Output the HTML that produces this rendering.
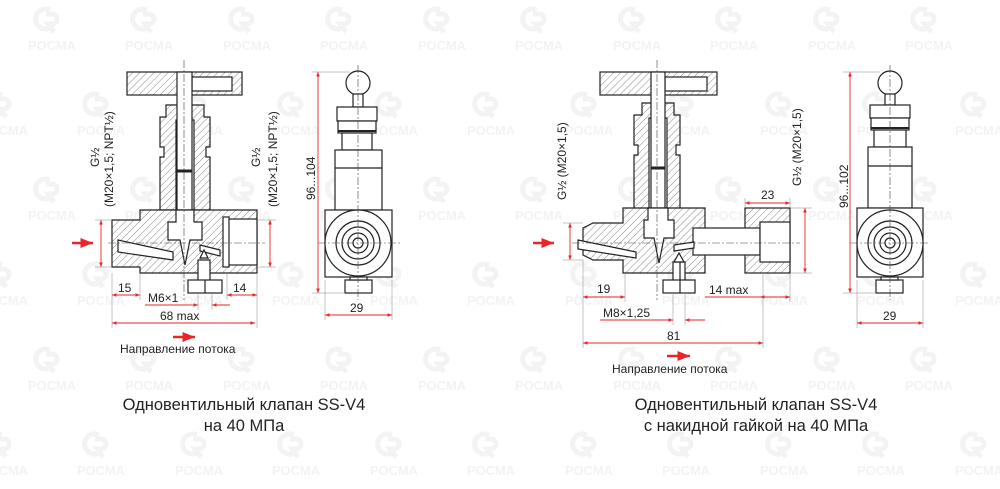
<!DOCTYPE html>
<html><head><meta charset="utf-8"><style>
body{margin:0;background:#fff;width:1000px;height:489px;overflow:hidden}
svg{display:block}
text{font-family:"Liberation Sans",sans-serif}
.wm{fill:#f3f3f3;font-weight:bold;font-size:13px}
.wl{fill:none;stroke:#f3f3f3;stroke-width:5}
.k{fill:none;stroke:#222;stroke-width:1.2}
.h{fill:url(#hat);stroke:#222;stroke-width:1.2}
.w{fill:#fff;stroke:#222;stroke-width:1.2}
.r{stroke:#e8262a;stroke-width:0.9;fill:none}
.th{stroke:#888;stroke-width:0.5;fill:none}
.ax{stroke:#444;stroke-width:0.6;stroke-dasharray:8 2 2 2;fill:none}
.d{font-size:12px;fill:#222}
.c{font-size:16.5px;fill:#222}
</style></head><body>
<svg width="1000" height="489" viewBox="0 0 1000 489" xmlns="http://www.w3.org/2000/svg">
<defs>
<pattern id="hat" width="5" height="5" patternUnits="userSpaceOnUse" patternTransform="rotate(45)">
<rect width="5" height="5" fill="#fff"/><line x1="0" y1="0" x2="0" y2="5" stroke="#555" stroke-width="0.7"/></pattern>
<marker id="a" viewBox="0 0 10 10" refX="10" refY="5" markerWidth="7" markerHeight="5" orient="auto-start-reverse"><path d="M0,1L10,5L0,9z" fill="#e8262a"/></marker>
<g id="logo"><path class="wl" d="M10,-10 A10,10 0 1 0 10,8"/><path class="wl" d="M6,-6 h6 a5,5 0 0 1 0,10 h-4 l6,8"/></g>
</defs>
<g>
<g id="row1">
<use href="#logo" x="40" y="20"/><text class="wm" x="28" y="50">РОСМА</text>
<use href="#logo" x="137" y="20"/><text class="wm" x="125" y="50">РОСМА</text>
<use href="#logo" x="235" y="20"/><text class="wm" x="223" y="50">РОСМА</text>
<use href="#logo" x="332" y="20"/><text class="wm" x="320" y="50">РОСМА</text>
<use href="#logo" x="430" y="20"/><text class="wm" x="418" y="50">РОСМА</text>
<use href="#logo" x="527" y="20"/><text class="wm" x="515" y="50">РОСМА</text>
<use href="#logo" x="625" y="20"/><text class="wm" x="613" y="50">РОСМА</text>
<use href="#logo" x="722" y="20"/><text class="wm" x="710" y="50">РОСМА</text>
<use href="#logo" x="820" y="20"/><text class="wm" x="808" y="50">РОСМА</text>
<use href="#logo" x="917" y="20"/><text class="wm" x="905" y="50">РОСМА</text>
</g>
<use href="#row1" x="-48" y="85"/><use href="#row1" x="0" y="170"/><use href="#row1" x="-48" y="255"/><use href="#row1" x="0" y="340"/><use href="#row1" x="-48" y="425"/>
<use href="#row1" x="927" y="85"/><use href="#row1" x="927" y="255"/><use href="#row1" x="927" y="425"/>
</g>

<!-- ============ LEFT VALVE ============ -->
<g>
<rect class="h" x="127" y="72" width="115" height="23"/>
<rect class="w" x="192" y="77" width="40" height="14"/>
<path class="h" d="M166,105h38v12h6v30h-4v10h4v53h-50v-53h4v-10h-4v-30h6z"/>
<rect class="w" x="176" y="120" width="18" height="90"/>
<rect class="w" x="177" y="72" width="15" height="140"/>
<line x1="177" y1="171" x2="192" y2="171" stroke="#222" stroke-width="3"/>
<path class="h" d="M112,220h28v-10h117v63h-117v-6h-28z"/>
<rect class="w" x="227" y="219" width="30" height="46"/>
<rect class="w" x="223" y="217" width="6" height="50"/>
<path class="w" d="M176,210h18v12h8v18l-12,0l-5,25l-5,-25l-12,0v-18h8z"/>
<path class="w" d="M118,240l55,12v8l-55,-8z"/>
<path class="w" d="M200,245l20,5v6l-20,-5z"/>
<rect class="w" x="198" y="260" width="12" height="22"/>
<path class="w" d="M200,258l4,-8l4,8z"/>
<rect class="w" x="188" y="280" width="34" height="13"/>
<line class="k" x1="205" y1="280" x2="205" y2="293"/>
<line class="ax" x1="184" y1="60" x2="184" y2="300"/>
<line class="ax" x1="108" y1="243" x2="265" y2="243"/>
<circle class="w" cx="358" cy="83" r="12"/>
<rect class="w" x="353" y="94" width="10" height="13"/>
<rect class="w" x="337" y="107" width="40" height="14"/>
<rect class="w" x="338" y="121" width="38" height="12"/>
<line x1="338" y1="131" x2="376" y2="131" stroke="#222" stroke-width="2"/>
<rect class="w" x="342" y="133" width="30" height="17"/>
<rect class="w" x="335" y="150" width="47" height="60"/>
<line class="k" x1="335" y1="168" x2="382" y2="168"/>
<rect class="w" x="325" y="210" width="67" height="67"/>
<circle class="w" cx="358" cy="243" r="33"/>
<circle class="w" cx="358" cy="243" r="22"/>
<circle class="k" cx="358" cy="243" r="16"/>
<circle class="k" cx="358" cy="243" r="10" stroke-width="2"/>
<circle class="k" cx="358" cy="243" r="5"/>
<rect class="w" x="345" y="280" width="27" height="13"/><rect class="w" x="350" y="277" width="17" height="3"/>
<line class="ax" x1="358" y1="65" x2="358" y2="300"/>
<line class="ax" x1="318" y1="243" x2="400" y2="243"/>
<g class="r">
<line x1="72" y1="243" x2="93" y2="243" stroke-width="2.5" marker-end="url(#a)"/>
<line x1="101" y1="220" x2="101" y2="267" marker-start="url(#a)" marker-end="url(#a)"/>
<line x1="270" y1="220" x2="270" y2="267" marker-start="url(#a)" marker-end="url(#a)"/>
<line x1="318" y1="72" x2="318" y2="293" marker-start="url(#a)" marker-end="url(#a)"/>
<line x1="325" y1="315" x2="392" y2="315" marker-start="url(#a)" marker-end="url(#a)"/>
<line x1="112" y1="295" x2="140" y2="295" marker-start="url(#a)" marker-end="url(#a)"/>
<line x1="227" y1="295" x2="257" y2="295" marker-start="url(#a)" marker-end="url(#a)"/>
<line x1="145" y1="305" x2="188" y2="305"/><line x1="188" y1="305" x2="198" y2="305" marker-end="url(#a)"/><line x1="212" y1="305" x2="230" y2="305" marker-start="url(#a)"/>
<line x1="112" y1="323" x2="255" y2="323" marker-start="url(#a)" marker-end="url(#a)"/>
<line x1="173" y1="337" x2="195" y2="337" stroke-width="2.5" marker-end="url(#a)"/>
</g>
<g class="th">
<line x1="95" y1="220" x2="112" y2="220"/><line x1="95" y1="267" x2="112" y2="267"/>
<line x1="257" y1="220" x2="276" y2="220"/><line x1="257" y1="267" x2="276" y2="267"/>
<line x1="312" y1="72" x2="350" y2="72"/><line x1="312" y1="293" x2="345" y2="293"/>
<line x1="112" y1="273" x2="112" y2="328"/><line x1="140" y1="273" x2="140" y2="300"/>
<line x1="257" y1="273" x2="257" y2="328"/><line x1="227" y1="273" x2="227" y2="300"/>
<line x1="325" y1="280" x2="325" y2="320"/><line x1="392" y1="280" x2="392" y2="320"/>
<line x1="198" y1="293" x2="198" y2="310"/><line x1="212" y1="293" x2="212" y2="310"/>
</g>
<text class="d" x="118" y="292">15</text>
<text class="d" x="233" y="292">14</text>
<text class="d" x="148" y="302">М6×1</text>
<text class="d" x="160" y="320">68 max</text>
<text class="d" x="350" y="312">29</text>
<text class="d" x="120" y="353">Направление потока</text>
<text class="d" transform="translate(315,200) rotate(-90)">96...104</text>
<text class="d" transform="translate(99,167) rotate(-90)">G½</text>
<text class="d" transform="translate(113,207) rotate(-90)">(М20×1,5; NPT½)</text>
<text class="d" transform="translate(260,167) rotate(-90)">G½</text>
<text class="d" transform="translate(277,207) rotate(-90)">(М20×1,5; NPT½)</text>
<text class="c" x="244" y="410" text-anchor="middle">Одновентильный клапан SS-V4</text>
<text class="c" x="244" y="431" text-anchor="middle">на 40 МПа</text>
</g>

<!-- ============ RIGHT VALVE ============ -->
<g>
<rect class="h" x="600" y="72" width="117" height="23"/>
<rect class="w" x="665" y="77" width="42" height="14"/>
<path class="h" d="M642,103h32v12h6v30h-4v10h4v55h-46v-55h4v-10h-4v-30h8z"/>
<rect class="w" x="649" y="118" width="18" height="92"/>
<rect class="w" x="651" y="72" width="14" height="140"/>
<line x1="651" y1="168" x2="665" y2="168" stroke="#222" stroke-width="3"/>
<path class="h" d="M583,228l10,-5h30v-15h82v65h-82v-13h-30l-10,-5z"/>
<path class="w" d="M648,208h20v12h6v18l-10,0l-5,25l-5,-25l-10,0v-18h4z"/>
<path class="w" d="M578,240l58,12v6l-58,-9z"/>
<rect class="h" x="745" y="208" width="45" height="65"/>
<rect class="w" x="693" y="228" width="67" height="27"/>
<rect class="w" x="760" y="222" width="30" height="40"/>
<path class="w" d="M674,245l20,-3v6l-20,3z"/>
<rect class="w" x="673" y="262" width="12" height="20"/>
<path class="w" d="M674,262l5,-9l5,9z"/>
<rect class="w" x="663" y="280" width="32" height="13"/>
<line class="k" x1="680" y1="262" x2="680" y2="293"/>
<line class="ax" x1="657" y1="60" x2="657" y2="300"/>
<line class="ax" x1="572" y1="243" x2="800" y2="243"/>
<circle class="w" cx="890" cy="83" r="12"/>
<rect class="w" x="885" y="94" width="10" height="11"/>
<rect class="w" x="870" y="105" width="40" height="13"/>
<rect class="w" x="871" y="118" width="38" height="12"/>
<line x1="871" y1="128" x2="909" y2="128" stroke="#222" stroke-width="2"/>
<rect class="w" x="874" y="130" width="32" height="17"/>
<rect class="w" x="868" y="147" width="44" height="61"/>
<line class="k" x1="868" y1="166" x2="912" y2="166"/>
<rect class="w" x="857" y="208" width="66" height="69"/>
<circle class="w" cx="890" cy="243" r="33"/>
<circle class="w" cx="890" cy="243" r="22"/>
<circle class="k" cx="890" cy="243" r="16"/>
<circle class="k" cx="890" cy="243" r="10" stroke-width="2"/>
<circle class="k" cx="890" cy="243" r="5"/>
<rect class="w" x="876" y="280" width="27" height="13"/><rect class="w" x="881" y="277" width="17" height="3"/>
<line class="ax" x1="890" y1="65" x2="890" y2="300"/>
<line class="ax" x1="850" y1="243" x2="930" y2="243"/>
<g class="r">
<line x1="533" y1="243" x2="554" y2="243" stroke-width="2.5" marker-end="url(#a)"/>
<line x1="570" y1="223" x2="570" y2="260" marker-start="url(#a)" marker-end="url(#a)"/>
<line x1="805" y1="208" x2="805" y2="273" marker-start="url(#a)" marker-end="url(#a)"/>
<line x1="850" y1="72" x2="850" y2="293" marker-start="url(#a)" marker-end="url(#a)"/>
<line x1="857" y1="323" x2="923" y2="323" marker-start="url(#a)" marker-end="url(#a)"/>
<line x1="745" y1="203" x2="790" y2="203" marker-start="url(#a)" marker-end="url(#a)"/>
<line x1="583" y1="297" x2="625" y2="297" marker-start="url(#a)" marker-end="url(#a)"/>
<line x1="705" y1="297" x2="760" y2="297"/><line x1="760" y1="297" x2="790" y2="297" marker-start="url(#a)" marker-end="url(#a)"/>
<line x1="600" y1="320" x2="673" y2="320" marker-end="url(#a)"/><line x1="685" y1="320" x2="705" y2="320" marker-start="url(#a)"/>
<line x1="583" y1="343" x2="763" y2="343" marker-start="url(#a)" marker-end="url(#a)"/>
<line x1="667" y1="356" x2="690" y2="356" stroke-width="2.5" marker-end="url(#a)"/>
</g>
<g class="th">
<line x1="563" y1="223" x2="583" y2="223"/><line x1="563" y1="260" x2="583" y2="260"/>
<line x1="790" y1="208" x2="812" y2="208"/><line x1="790" y1="273" x2="812" y2="273"/>
<line x1="843" y1="72" x2="880" y2="72"/><line x1="843" y1="293" x2="876" y2="293"/>
<line x1="583" y1="260" x2="583" y2="348"/><line x1="625" y1="273" x2="625" y2="302"/>
<line x1="790" y1="273" x2="790" y2="302"/><line x1="763" y1="273" x2="763" y2="348"/>
<line x1="745" y1="198" x2="745" y2="208"/><line x1="790" y1="198" x2="790" y2="208"/>
<line x1="857" y1="280" x2="857" y2="328"/><line x1="923" y1="280" x2="923" y2="328"/>
<line x1="673" y1="293" x2="673" y2="325"/><line x1="685" y1="293" x2="685" y2="325"/>
</g>
<text class="d" x="597" y="293">19</text>
<text class="d" x="709" y="294">14 max</text>
<text class="d" x="761" y="199">23</text>
<text class="d" x="603" y="317">М8×1,25</text>
<text class="d" x="667" y="340">81</text>
<text class="d" x="883" y="320">29</text>
<text class="d" x="612" y="373">Направление потока</text>
<text class="d" transform="translate(848,208) rotate(-90)">96...102</text>
<text class="d" transform="translate(566,200) rotate(-90)">G½ (М20×1,5)</text>
<text class="d" transform="translate(801,186) rotate(-90)">G½ (М20×1,5)</text>
<text class="c" x="756" y="410" text-anchor="middle">Одновентильный клапан SS-V4</text>
<text class="c" x="756" y="431" text-anchor="middle">с накидной гайкой на 40 МПа</text>
</g>
</svg>
</body></html>
